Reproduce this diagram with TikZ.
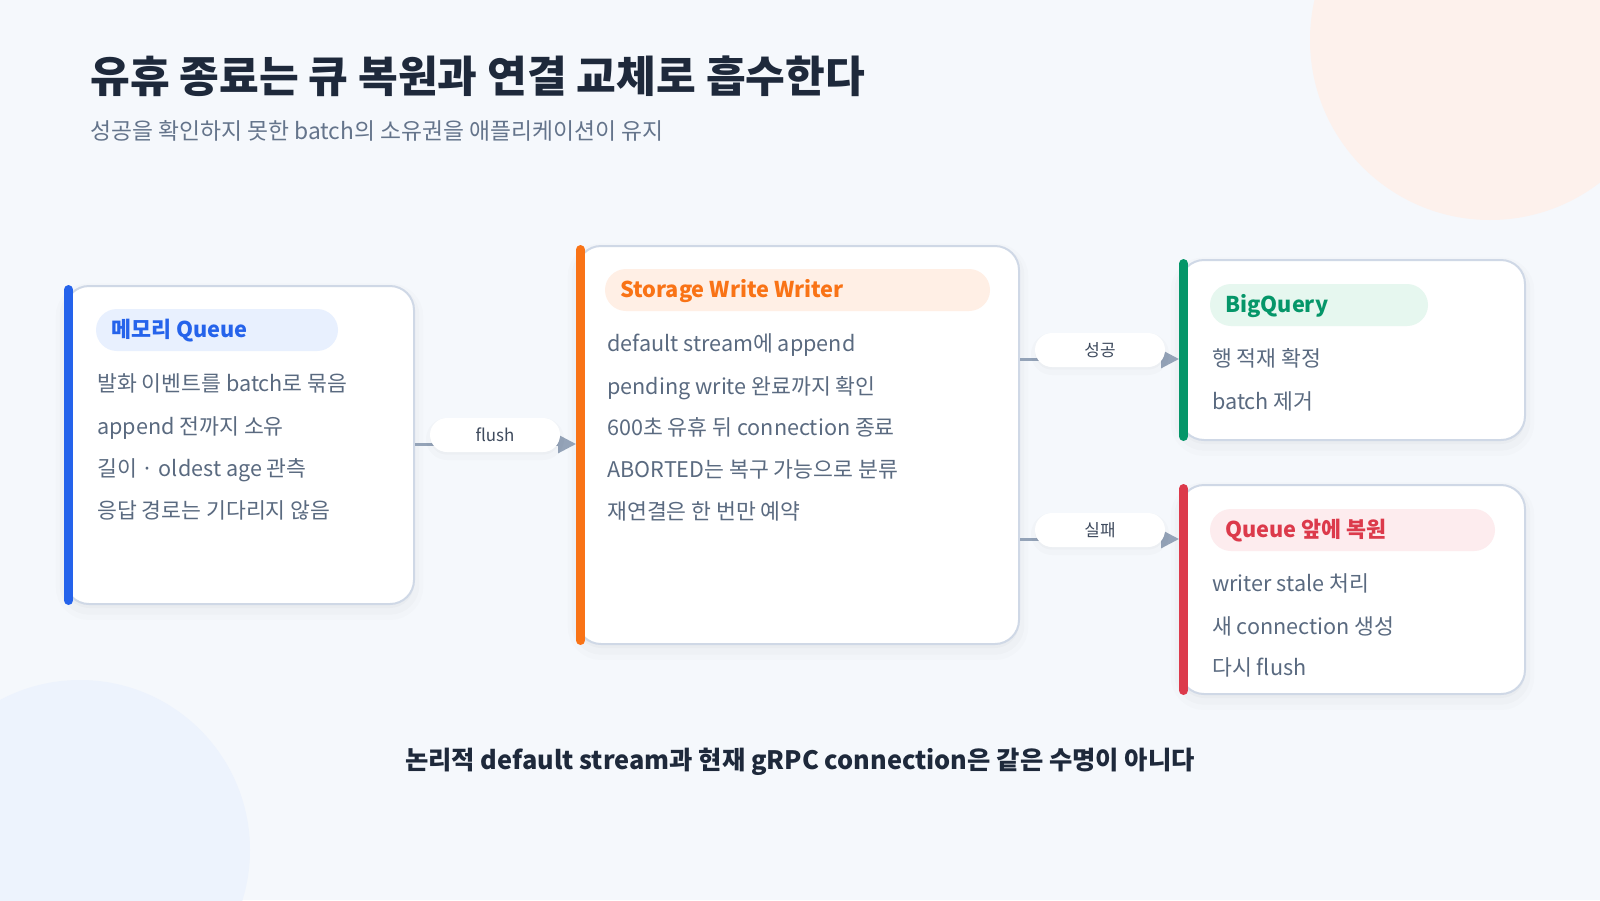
\documentclass[tikz,border=0pt]{standalone}
\usepackage{fontspec}
\setmainfont{Noto Sans CJK KR}
\usetikzlibrary{arrows.meta}
\definecolor{bg}{HTML}{F5F8FC}
\definecolor{peach}{HTML}{FDF1EC}
\definecolor{bluecirc}{HTML}{EDF3FD}
\definecolor{titlec}{HTML}{1E293B}
\definecolor{subc}{HTML}{64748B}
\definecolor{bodyc}{HTML}{5A6A80}
\definecolor{borderc}{HTML}{CFD8E6}
\definecolor{edgec}{HTML}{94A3B8}
\definecolor{elabc}{HTML}{3F4B5E}
\definecolor{cblue}{HTML}{2563EB}
\definecolor{pblue}{HTML}{E8F0FE}
\definecolor{corange}{HTML}{F97316}
\definecolor{porange}{HTML}{FFEFE5}
\definecolor{cgreen}{HTML}{059669}
\definecolor{pgreen}{HTML}{E6F7EF}
\definecolor{cred}{HTML}{DC3A4B}
\definecolor{pred}{HTML}{FDECEE}
\begin{document}
\begin{tikzpicture}[x=0.75pt,y=-0.75pt,
  card/.style={draw=borderc, fill=white, line width=1.5pt, rounded corners=18pt, inner sep=0pt,
    preaction={draw=black, line width=14pt, opacity=0.012, transform canvas={yshift=-5pt}},
    preaction={draw=black, line width=8pt, opacity=0.015, transform canvas={yshift=-4pt}},
    preaction={fill=black, opacity=0.02, transform canvas={yshift=-3pt}}},
  accent/.style={line width=6.75pt, line cap=round},
  hpill/.style={rounded corners=15.75pt, inner sep=0pt, minimum height=31.5pt},
  htext/.style={anchor=base west, inner sep=0pt, font=\fontsize{16.3pt}{19pt}\selectfont\bfseries},
  body/.style={anchor=base west, inner sep=0pt, text=bodyc, font=\fontsize{16.2pt}{19pt}\selectfont},
  edge/.style={draw=edgec, line width=2.25pt, -{Triangle[length=13.5pt,width=13.5pt]}},
  elabel/.style={fill=white, rounded corners=12.75pt, minimum width=97.5pt, minimum height=25.5pt, inner sep=0pt,
    text=elabc, font=\fontsize{12.7pt}{15pt}\selectfont,
    preaction={draw=black, line width=6pt, opacity=0.015, transform canvas={yshift=-3pt}},
    preaction={fill=black, opacity=0.02, transform canvas={yshift=-2pt}}}
]
\useasboundingbox (0,0) rectangle (1600,900);
\clip (0,0) rectangle (1600,900);
\fill[bg] (0,0) rectangle (1600,900);
\fill[peach] (1490,40) circle[radius=135pt];
\fill[bluecirc] (80,850) circle[radius=127.5pt];

% title
\node[anchor=base west, inner sep=0pt, text=titlec, font=\fontsize{32.4pt}{38pt}\selectfont\bfseries] (title) at (90,92) {유휴 종료는 큐 복원과 연결 교체로 흡수한다};
\node[anchor=base west, inner sep=0pt, text=subc, font=\fontsize{17.1pt}{20pt}\selectfont] (subtitle) at (90,139.5) {성공을 확인하지 못한 batch의 소유권을 애플리케이션이 유지};

% cards
\node[card, minimum width=261.75pt, minimum height=238.5pt] (q) at (239.5,445) {};
\node[card, minimum width=331.5pt, minimum height=298.5pt] (w) at (798,445) {};
\node[card, minimum width=258.75pt, minimum height=135pt] (bq) at (1352.5,350) {};
\node[card, minimum width=258.75pt, minimum height=156.75pt] (rq) at (1352.5,589.5) {};

% accent bars
\draw[accent, cblue] ([xshift=3.4pt,yshift=-3.4pt]q.north west) -- ([xshift=3.4pt,yshift=3.4pt]q.south west);
\draw[accent, corange] ([xshift=3.4pt,yshift=-3.4pt]w.north west) -- ([xshift=3.4pt,yshift=3.4pt]w.south west);
\draw[accent, cgreen] ([xshift=3.4pt,yshift=-3.4pt]bq.north west) -- ([xshift=3.4pt,yshift=3.4pt]bq.south west);
\draw[accent, cred] ([xshift=3.4pt,yshift=-3.4pt]rq.north west) -- ([xshift=3.4pt,yshift=3.4pt]rq.south west);

% header pills
\node[hpill, fill=pblue, minimum width=181.5pt] (qp) at (217,330) {};
\node[hpill, fill=porange, minimum width=288.75pt] (wp) at (797.5,290) {};
\node[hpill, fill=pgreen, minimum width=163.5pt] (bqp) at (1319,305) {};
\node[hpill, fill=pred, minimum width=213.75pt] (rqp) at (1352.5,530) {};
\node[htext, text=cblue] (qh) at (111,337.8) {메모리 Queue};
\node[htext, text=corange] (wh) at (620,297.8) {Storage Write Writer};
\node[htext, text=cgreen] (bqh) at (1225,312.8) {BigQuery};
\node[htext, text=cred] (rqh) at (1225,537.8) {Queue 앞에 복원};

% body lines
\node[body] (q1) at (97,391.8) {발화 이벤트를 batch로 묶음};
\node[body] (q2) at (97,434.8) {append 전까지 소유};
\node[body] (q3) at (97,476.8) {길이 · oldest age 관측};
\node[body] (q4) at (97,518.8) {응답 경로는 기다리지 않음};

\node[body] (w1) at (607,351.8) {default stream에 append};
\node[body] (w2) at (607,394.8) {pending write 완료까지 확인};
\node[body] (w3) at (607,435.8) {600초 유휴 뒤 connection 종료};
\node[body] (w4) at (607,477.8) {ABORTED는 복구 가능으로 분류};
\node[body] (w5) at (607,519.8) {재연결은 한 번만 예약};

\node[body] (b1) at (1212,366.8) {행 적재 확정};
\node[body] (b2) at (1212,409.8) {batch 제거};

\node[body] (r1) at (1212,591.8) {writer stale 처리};
\node[body] (r2) at (1212,634.8) {새 connection 생성};
\node[body] (r3) at (1212,675.8) {다시 flush};

% connectors
\coordinate (fl) at (0,444);
\coordinate (ok) at (0,359);
\coordinate (ng) at (0,539);
\draw[edge] (q.east |- fl) -- (w.west |- fl);
\draw[edge] (w.east |- ok) -- (bq.west |- ok);
\draw[edge] (w.east |- ng) -- (rq.west |- ng);
\node[elabel] (lf) at (495,435) {flush};
\node[elabel] (lok) at (1100,350) {성공};
\node[elabel] (lng) at (1100,530) {실패};

% footer
\node[anchor=base, inner sep=0pt, text=titlec, font=\fontsize{19pt}{22pt}\selectfont\bfseries] (foot) at (800,769) {논리적 default stream과 현재 gRPC connection은 같은 수명이 아니다};
\end{tikzpicture}
\end{document}
